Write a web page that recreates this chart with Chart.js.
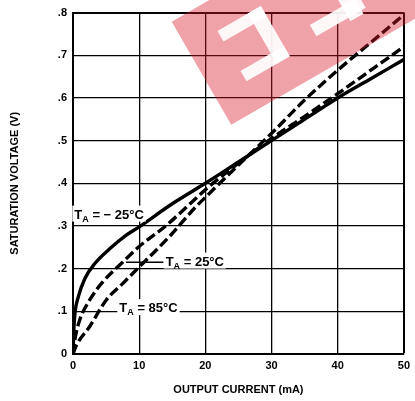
<!DOCTYPE html>
<html><head><meta charset="utf-8">
<script src="https://cdn.jsdelivr.net/npm/chart.js@4.4.0/dist/chart.umd.min.js"></script>
<style>html,body{margin:0;padding:0;background:#fff;}#wrap{width:415px;height:401px;}</style>
</head><body><div id="wrap"><canvas id="c" width="415" height="401"></canvas></div>
<script>
const xTicks = [0, 10, 20, 30, 40, 50];
const xTickLabels = ['0', '10', '20', '30', '40', '50'];
const yTicks = [0, 0.1, 0.2, 0.3, 0.4, 0.5, 0.6, 0.7, 0.8];
const yTickLabels = ['0', '.1', '.2', '.3', '.4', '.5', '.6', '.7', '.8'];

const seriesNames = ['T_A = -25°C', 'T_A = 25°C', 'T_A = 85°C'];

const currentM25 = [0, 0.1, 0.3, 0.8, 1.8, 3.3, 5.5, 8, 10, 15, 20, 25, 30, 35, 40, 45, 50];
const voltM25    = [0, 0.05, 0.096, 0.134, 0.177, 0.212, 0.246, 0.278, 0.298, 0.352, 0.40, 0.45, 0.50, 0.55, 0.60, 0.645, 0.69];

const current25 = [0, 0.3, 1, 2.5, 4.5, 7.5, 10, 14, 17, 20, 25, 30, 35, 40, 45, 50];
const volt25    = [0, 0.035, 0.079, 0.126, 0.169, 0.215, 0.252, 0.30, 0.342, 0.385, 0.447, 0.505, 0.557, 0.61, 0.665, 0.72];

const current85 = [0, 0.5, 2.5, 5, 7.5, 10, 14.5, 18.5, 20, 25, 30, 35, 40, 45, 50];
const volt85    = [0, 0.02, 0.064, 0.126, 0.165, 0.204, 0.274, 0.344, 0.367, 0.443, 0.517, 0.595, 0.665, 0.73, 0.795];

const FONT = '"Liberation Sans", Arial, Helvetica, sans-serif';
const pts = (xs, ys) => xs.map((x, i) => ({x: x, y: ys[i]}));

const labelPlugin = {
  id: 'labels',
  afterDatasetsDraw(chart) {
    const ctx = chart.ctx, xs = chart.scales.x, ys = chart.scales.y;
    function drawTA(x, yMid, rest, box) {
      ctx.save();
      ctx.textBaseline = 'alphabetic';
      ctx.font = 'bold 13px ' + FONT;
      const wT = ctx.measureText('T').width;
      ctx.font = 'bold 9px ' + FONT;
      const wA = ctx.measureText('A').width;
      ctx.font = 'bold 13px ' + FONT;
      const wR = ctx.measureText(rest).width;
      const w = wT + wA + wR;
      if (box) {
        ctx.fillStyle = '#fff';
        ctx.fillRect(x - 2, yMid - 8, w + 4, 16);
      }
      ctx.fillStyle = '#000';
      ctx.fillText('T', x, yMid + 5);
      ctx.font = 'bold 9px ' + FONT;
      ctx.fillText('A', x + wT, yMid + 8);
      ctx.font = 'bold 13px ' + FONT;
      ctx.fillText(rest, x + wT + wA, yMid + 5);
      ctx.restore();
      return w;
    }
    drawTA(xs.getPixelForValue(0.2), ys.getPixelForValue(0.329), ' = \u2212 25\u00b0C', true);
    ctx.save();
    ctx.strokeStyle = '#000'; ctx.lineWidth = 1.5;
    ctx.beginPath();
    ctx.moveTo(xs.getPixelForValue(8.0), ys.getPixelForValue(0.215));
    ctx.lineTo(xs.getPixelForValue(13.7), ys.getPixelForValue(0.215));
    ctx.stroke();
    ctx.restore();
    drawTA(xs.getPixelForValue(14.0), ys.getPixelForValue(0.219), ' = 25\u00b0C', true);
    drawTA(xs.getPixelForValue(7.0), ys.getPixelForValue(0.11), ' = 85\u00b0C', true);
  }
};

const watermarkPlugin = {
  id: 'watermark',
  afterDraw(chart) {
    const ctx = chart.ctx;
    ctx.save();
    ctx.translate(171.7, 21.7);
    ctx.rotate(-Math.PI / 6);
    ctx.fillStyle = 'rgba(215,25,40,0.40)';
    ctx.fillRect(0, 0, 420, 119);
    ctx.fillStyle = 'rgba(255,255,255,0.92)';
    ctx.fillRect(35, 31, 50, 12);
    ctx.fillRect(70, 31, 15, 58);
    ctx.fillRect(35, 77, 50, 12);
    ctx.fillRect(118, 31, 52, 12);
    ctx.fillRect(155, 31, 15, 58);
    ctx.fillRect(118, 72, 57, 13);
    ctx.restore();
  }
};

new Chart(document.getElementById('c'), {
  type: 'line',
  data: {
    datasets: [
      {label: seriesNames[0], data: pts(currentM25, voltM25), borderColor: '#000', borderWidth: 3.4},
      {label: seriesNames[1], data: pts(current25, volt25), borderColor: '#000', borderWidth: 3.4, borderDash: [10, 4]},
      {label: seriesNames[2], data: pts(current85, volt85), borderColor: '#000', borderWidth: 3.4, borderDash: [10, 4]}
    ]
  },
  options: {
    responsive: false,
    animation: false,
    devicePixelRatio: 1,
    layout: {padding: {top: 11, right: 7, left: 0, bottom: 0}},
    plugins: {legend: {display: false}, tooltip: {enabled: false}},
    elements: {point: {radius: 0}, line: {cubicInterpolationMode: 'monotone', fill: false}},
    scales: {
      x: {
        type: 'linear', min: 0, max: 50,
        afterBuildTicks: s => { s.ticks = xTicks.map(v => ({value: v})); },
        afterFit: s => { s.height = 47; },
        ticks: {callback: (v, i) => xTickLabels[i], color: '#000', font: {family: FONT, size: 11, weight: 'bold'}, padding: 5, maxRotation: 0, autoSkip: false},
        grid: {color: '#000', lineWidth: c => (c.tick && c.tick.value === 50) ? 2 : 1.3, drawTicks: false},
        border: {color: '#000', width: 2},
        title: {display: true, text: 'OUTPUT CURRENT (mA)', color: '#000', font: {family: FONT, size: 11, weight: 'bold'}, padding: {top: 0, bottom: 4}}
      },
      y: {
        type: 'linear', min: 0, max: 0.8,
        afterBuildTicks: s => { s.ticks = yTicks.map(v => ({value: v})); },
        afterFit: s => { s.width = 73; },
        ticks: {callback: (v, i) => yTickLabels[i], color: '#000', font: {family: FONT, size: 11, weight: 'bold'}, padding: 6, autoSkip: false},
        grid: {color: '#000', lineWidth: c => (c.tick && c.tick.value === 0.8) ? 2 : 1.3, drawTicks: false},
        border: {color: '#000', width: 2},
        title: {display: true, text: 'SATURATION VOLTAGE (V)', color: '#000', font: {family: FONT, size: 11, weight: 'bold'}, padding: {top: 8, bottom: 0}}
      }
    }
  },
  plugins: [labelPlugin, watermarkPlugin]
});
</script>
</body></html>
